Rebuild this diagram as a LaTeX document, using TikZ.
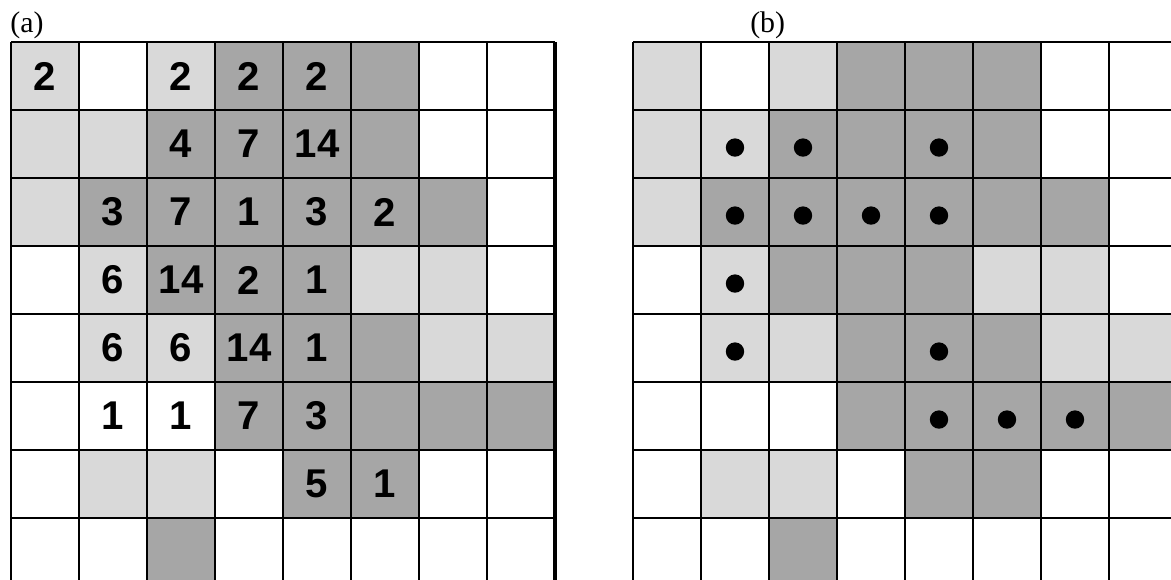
\documentclass[tikz,border=0pt]{standalone}
\usepackage{fontspec}
\setmainfont{Liberation Serif}
\setsansfont{Liberation Sans}
\definecolor{cellLight}{HTML}{D9D9D9}
\definecolor{cellDark}{HTML}{A6A6A6}

\begin{document}
\begin{tikzpicture}[
    lightcell/.style={fill=cellLight},
    darkcell/.style={fill=cellDark},
    gridline/.style={line width=0.9pt, black},
    num/.style={font=\sffamily\bfseries\fontsize{16.8}{18}\selectfont, inner sep=0pt},
    dot/.style={circle, fill=black, inner sep=0pt, minimum size=0.27cm},
    panel/.style={font=\fontsize{12.5}{14}\selectfont, inner sep=0pt}
]
    \useasboundingbox (0,0) rectangle (17.221,-8.529);

    % panel labels
    \node[panel, anchor=west] (lab-a) at (0.147,-0.37) {(a)};
    \node[panel] (lab-b) at (11.29,-0.37) {(b)};

    % both grids share the same shading
    \foreach \gx/\g in {0.162/a, 9.309/b} {
        \begin{scope}[shift={(\gx,-0.62)}]
            \foreach \c/\r in {1/1,3/1,1/2,2/2,1/3,2/4,6/4,7/4,2/5,3/5,7/5,8/5,2/7,3/7}
                \fill[lightcell] (\c-1,1-\r) rectangle (\c,-\r);
            \foreach \c/\r in {4/1,5/1,6/1,3/2,4/2,5/2,6/2,2/3,3/3,4/3,5/3,6/3,7/3,
                               3/4,4/4,5/4,4/5,5/5,6/5,4/6,5/6,6/6,7/6,8/6,5/7,6/7,3/8}
                \fill[darkcell] (\c-1,1-\r) rectangle (\c,-\r);
            \draw[gridline] (0,0) grid (8,-8);
            \coordinate (\g-tl) at (0,0);
        \end{scope}
    }

    % counts in grid (a)
    \begin{scope}[shift={(0.162,-0.62)}]
        \draw[line width=1.6pt] (8,0) -- (8,-8);
        \foreach \c/\r/\v in {1/1/2, 3/1/2, 4/1/2, 5/1/2, 3/2/4, 4/2/7, 5/2/14,
                              2/3/3, 3/3/7, 4/3/1, 5/3/3, 6/3/2, 2/4/6, 3/4/14, 4/4/2, 5/4/1,
                              2/5/6, 3/5/6, 4/5/14, 5/5/1, 2/6/1, 3/6/1, 4/6/7, 5/6/3,
                              5/7/5, 6/7/1}
            \node[num] (n-\c-\r) at (\c-0.5,0.5-\r) {\v};
    \end{scope}

    % marks in grid (b)
    \begin{scope}[shift={(9.309,-0.62)}]
        \foreach \c/\r in {2/2,3/2,5/2,2/3,3/3,4/3,5/3,2/4,2/5,5/5,5/6,6/6,7/6}
            \node[dot] (d-\c-\r) at (\c-0.5,0.45-\r) {};
    \end{scope}
\end{tikzpicture}
\end{document}
